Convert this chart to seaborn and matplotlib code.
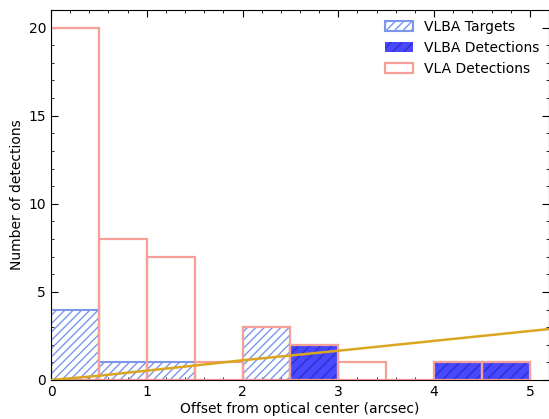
import numpy as np
import matplotlib
matplotlib.use("Agg")
import matplotlib.pyplot as plt
from matplotlib.ticker import AutoMinorLocator, MultipleLocator
import seaborn as sns

# Histogram bins (arcsec) and counts per bin
bin_edges = [0.0, 0.5, 1.0, 1.5, 2.0, 2.5, 3.0, 3.5, 4.0, 4.5, 5.0]
vlba_targets = [4, 1, 1, 0, 3, 2, 0, 0, 1, 1]
vlba_detections = [0, 0, 0, 0, 0, 2, 0, 0, 1, 1]
vla_detections = [20, 8, 7, 1, 3, 2, 1, 0, 1, 1]

# Expected number of chance associations versus offset
curve_offset = [0.0, 0.5, 1.0, 1.5, 2.0, 2.5, 3.0, 3.5, 4.0, 4.5, 5.0, 5.2]
curve_count = [0.0, 0.24, 0.53, 0.82, 1.12, 1.39, 1.66, 1.94, 2.22, 2.50, 2.78, 2.89]

sns.set_style("ticks")
plt.rcParams["font.family"] = ["DejaVu Sans"]
plt.rcParams["hatch.linewidth"] = 1.0
plt.rcParams["text.color"] = "black"
plt.rcParams["axes.labelcolor"] = "black"
plt.rcParams["xtick.color"] = "black"
plt.rcParams["ytick.color"] = "black"

centers = [(a + b) / 2 for a, b in zip(bin_edges[:-1], bin_edges[1:])]

fig = plt.figure(figsize=(5.49, 4.19), dpi=100)
ax = fig.add_axes([0.0929, 0.0931, 0.9071, 0.8830])

sns.histplot(x=centers, weights=vlba_targets, bins=bin_edges, ax=ax,
             element="bars", fill=False, color="#7b96ec",
             hatch="////", linewidth=1.5, label="VLBA Targets")
sns.histplot(x=centers, weights=vlba_detections, bins=bin_edges, ax=ax,
             element="bars", fill=True, facecolor="#4848ff", alpha=1.0,
             edgecolor="#3030cc", hatch="///", linewidth=0,
             label="VLBA Detections")
sns.histplot(x=centers, weights=vla_detections, bins=bin_edges, ax=ax,
             element="bars", fill=False, color="#f5a096",
             linewidth=1.6, label="VLA Detections")
sns.lineplot(x=curve_offset, y=curve_count, ax=ax, color="#daa520",
             linewidth=1.8, zorder=5)

ax.set_xlim(0, 5.2)
ax.set_ylim(0, 21)
ax.xaxis.set_major_locator(MultipleLocator(1))
ax.yaxis.set_major_locator(MultipleLocator(5))
ax.xaxis.set_minor_locator(AutoMinorLocator(5))
ax.yaxis.set_minor_locator(AutoMinorLocator(5))
ax.tick_params(which="both", direction="in", top=True, right=True)
ax.tick_params(which="major", length=5, labelsize=10)
ax.tick_params(which="minor", length=2.5)
for s in ax.spines.values():
    s.set_visible(True)
    s.set_color("black")
    s.set_linewidth(0.8)

ax.set_xlabel("Offset from optical center (arcsec)", fontsize=10, labelpad=2)
ax.set_ylabel("Number of detections", fontsize=10, labelpad=3)

handles, labels = ax.get_legend_handles_labels()
order = ["VLBA Targets", "VLBA Detections", "VLA Detections"]
hmap = dict(zip(labels, handles))
leg = ax.legend([hmap[k] for k in order], order, loc="upper right",
                frameon=False, fontsize=10, handlelength=2.0,
                borderaxespad=0.3, labelspacing=0.5)

fig.savefig("out.png", dpi=100)
